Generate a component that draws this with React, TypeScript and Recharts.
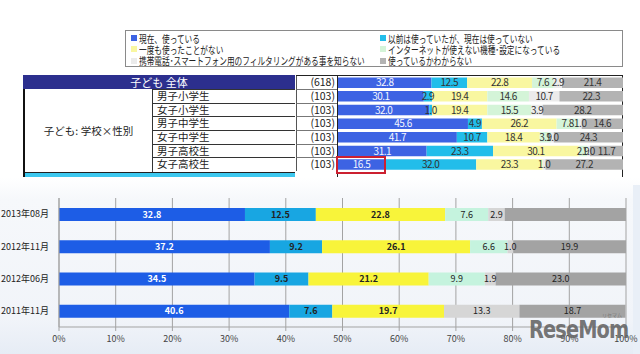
import React from 'react';
import { BarChart, Bar, XAxis, YAxis, CartesianGrid, LabelList } from 'recharts';

const seriesKeys = ['s1', 's2', 's3', 's4', 's5', 's6'];
const seriesNames = [
  '現在、使っている',
  '以前は使っていたが、現在は使っていない',
  '一度も使ったことがない',
  'インターネットが使えない機種･設定になっている',
  '携帯電話･スマートフォン用のフィルタリングがある事を知らない',
  '使っているかわからない',
];
const topColors = ['#3d63e3', '#22bdea', '#f9f7a0', '#d4f4d8', '#ebebeb', '#b3b3b3'];
const botColors = ['#1d5de6', '#18a6e2', '#f8f43a', '#c5f3de', '#d6d6d6', '#a3a3a3'];

// top table
const headerLabel = '子ども 全体';
const groupTitle = '子ども: 学校×性別';
const groupLabels = ['子ども 全体', '男子小学生', '女子小学生', '男子中学生', '女子中学生', '男子高校生', '女子高校生'];
const groupCounts = ['(618)', '(103)', '(103)', '(103)', '(103)', '(103)', '(103)'];
const topS1 = [32.8, 30.1, 32.0, 45.6, 41.7, 31.1, 16.5];
const topS2 = [12.5, 2.9, 1.0, 4.9, 10.7, 23.3, 32.0];
const topS3 = [22.8, 19.4, 19.4, 26.2, 18.4, 30.1, 23.3];
const topS4 = [7.6, 14.6, 15.5, 7.8, 3.9, 2.9, 0];
const topS5 = [2.9, 10.7, 3.9, 1.0, 1.0, 1.0, 1.0];
const topS6 = [21.4, 22.3, 28.2, 14.6, 24.3, 11.7, 27.2];

// bottom chart
const periods = ['2013年08月', '2012年11月', '2012年06月', '2011年11月'];
const botS1 = [32.8, 37.2, 34.5, 40.6];
const botS2 = [12.5, 9.2, 9.5, 7.6];
const botS3 = [22.8, 26.1, 21.2, 19.7];
const botS4 = [7.6, 6.6, 9.9, 0];
const botS5 = [2.9, 1.0, 1.9, 13.3];
const botS6 = [21.4, 19.9, 23.0, 18.7];
const botUnlabeled = ['2013年08月|s6'];
const xTicks = [0, 10, 20, 30, 40, 50, 60, 70, 80, 90, 100];

const topSeries = [topS1, topS2, topS3, topS4, topS5, topS6];
const botSeries = [botS1, botS2, botS3, botS4, botS5, botS6];

const topData = groupLabels.map((g, i) => {
  const row: any = { name: g };
  seriesKeys.forEach((k, j) => (row[k] = topSeries[j][i]));
  return row;
});
const botData = periods.map((p, i) => {
  const row: any = { name: p };
  seriesKeys.forEach((k, j) => (row[k] = botSeries[j][i]));
  return row;
});

const JP = '"Noto Sans CJK JP", "Noto Sans", sans-serif';

const makeLabel = (color: string, weight: number, size: number, spacing: number, key: string, data: any[], skip: string[]) => (props: any) => {
  const { x, y, width, height, value, index } = props;
  if (!value) return null;
  const nm = data[index] ? data[index].name : '';
  if (skip.includes(nm + '|' + key)) return null;
  return (
    <text
      x={Number(x) + Number(width) / 2}
      y={Number(y) + Number(height) / 2}
      dy="0.36em"
      textAnchor="middle"
      fill={color}
      fontSize={size}
      fontWeight={weight}
      letterSpacing={spacing}
      fontFamily={JP}
    >
      {Number(value).toFixed(1)}
    </text>
  );
};

const ROW = 13.66;
const TOP0 = 75.4;

export default function App() {
  return (
    <div style={{ position: 'absolute', left: 0, top: 0, width: 640, height: 354, background: '#fff', overflow: 'hidden', fontFamily: JP }}>
      {/* lower background */}
      <div style={{ position: 'absolute', left: 0, top: 178, width: 640, height: 176, background: 'linear-gradient(to bottom, #ffffff 0%, #f6f8fb 12%, #f1f4f9 80%, #e6ecf5 100%)' }} />
      <div style={{ position: 'absolute', left: 633, top: 185, width: 7, height: 169, background: '#e9eff7' }} />

      {/* legend */}
      <div style={{ position: 'absolute', left: 125, top: 30, width: 498, height: 37, border: '1px solid #8a8a8a', boxSizing: 'border-box', background: '#fff' }}>
        {seriesNames.map((n, i) => {
          const col = i % 2;
          const row = Math.floor(i / 2);
          return (
            <div key={n} style={{ position: 'absolute', left: col === 0 ? 5 : 254, top: 1.5 + row * 11.3, height: 11, display: 'flex', alignItems: 'center', whiteSpace: 'nowrap' }}>
              <span style={{ display: 'inline-block', width: 6, height: 6, background: topColors[i], marginRight: 2 }} />
              <span style={{ display: 'inline-block', fontSize: 10.5, color: '#222', lineHeight: '11px', transform: 'scaleX(0.73)', transformOrigin: 'left center' }}>{n}</span>
            </div>
          );
        })}
      </div>

      {/* table */}
      <div style={{ position: 'absolute', left: 23, top: 75, width: 272, height: 14, background: '#2c2f8e', color: '#fff', fontSize: 11, lineHeight: '14px', textAlign: 'center' }}>{headerLabel}</div>
      <div style={{ position: 'absolute', left: 23, top: 89, width: 130, height: 83, borderLeft: '2px solid #111', borderRight: '1px solid #333', boxSizing: 'border-box', display: 'flex', alignItems: 'center', justifyContent: 'center', fontSize: 10.5, color: '#222' }}>{groupTitle}</div>
      {groupLabels.slice(1).map((g, i) => (
        <div key={g} style={{ position: 'absolute', left: 153, top: TOP0 + (i + 1) * ROW, width: 142, height: ROW, borderTop: '1px solid #333', boxSizing: 'border-box', fontSize: 10.5, lineHeight: '12px', paddingLeft: 4, color: '#222' }}>{g}</div>
      ))}
      {groupCounts.map((c, i) => (
        <div key={i} style={{ position: 'absolute', left: 296, top: TOP0 + i * ROW, width: 41, height: ROW, borderTop: '1px solid #777', borderLeft: '1px solid #555', boxSizing: 'border-box', fontSize: 10.5, lineHeight: '12px', textAlign: 'right', paddingRight: 2, color: '#222' }}>{c}</div>
      ))}
      <div style={{ position: 'absolute', left: 296, top: 75, width: 327, height: 1, background: '#222' }} />
      <div style={{ position: 'absolute', left: 337, top: 75, width: 1, height: 102, background: '#222' }} />
      <div style={{ position: 'absolute', left: 622, top: 75, width: 1, height: 102, background: '#222' }} />
      <div style={{ position: 'absolute', left: 23, top: 172, width: 272, height: 5, background: '#3cc8ef', borderTop: '1px solid #222', boxSizing: 'border-box' }} />
      <div style={{ position: 'absolute', left: 23, top: 172, width: 2, height: 5, background: '#111' }} />

      {/* top chart */}
      <div style={{ position: 'absolute', left: 0, top: 0 }}>
        <BarChart width={640} height={180} layout="vertical" data={topData} margin={{ top: TOP0, right: 17, bottom: 180 - TOP0 - 7 * ROW, left: 338 }} barSize={10.5}>
          <XAxis type="number" hide domain={[0, 100]} allowDataOverflow />
          <YAxis type="category" dataKey="name" hide />
          {seriesKeys.map((k, j) => (
            <Bar key={k} dataKey={k} stackId="a" fill={topColors[j]} isAnimationActive={false}>
              <LabelList dataKey={k} content={makeLabel(j === 0 ? '#f4f6ff' : '#333', 400, 10, -0.5, k, topData, [])} />
            </Bar>
          ))}
        </BarChart>
      </div>

      {/* red highlight box */}
      <div style={{ position: 'absolute', left: 336, top: 156, width: 50, height: 18, border: '2px solid #cc2030', boxSizing: 'border-box' }} />

      {/* bottom chart */}
      <div style={{ position: 'absolute', left: 0, top: 180 }}>
        <BarChart width={640} height={174} layout="vertical" data={botData} margin={{ top: 18, right: 14, bottom: 0, left: 0 }} barSize={13}>
          <CartesianGrid horizontal={false} stroke="#a3a3a3" />
          <XAxis type="number" domain={[0, 100]} ticks={xTicks} allowDataOverflow tickFormatter={(v: number) => v + '%'} height={27} axisLine={{ stroke: '#a3a3a3' }} tickLine={{ stroke: '#a3a3a3' }} tickSize={4} tickMargin={5} tick={{ fontSize: 9, fill: '#444' }} />
          <YAxis yAxisId={0} type="number" domain={[0, 4]} ticks={[0, 1, 2, 3, 4]} width={0} tick={false} axisLine={false} tickLine={{ stroke: '#a3a3a3' }} tickSize={4} />
          <YAxis yAxisId="cat" type="category" dataKey="name" width={59} axisLine={{ stroke: '#a3a3a3' }} tickLine={false} tickSize={6} tickMargin={4} tick={{ fontSize: 9, fill: '#222' }} />
          {seriesKeys.map((k, j) => (
            <Bar key={k} yAxisId="cat" dataKey={k} stackId="b" fill={botColors[j]} isAnimationActive={false}>
              <LabelList dataKey={k} content={makeLabel(j === 0 ? '#ffffff' : '#222', j < 3 ? 700 : 400, 9, 0, k, botData, botUnlabeled)} />
            </Bar>
          ))}
        </BarChart>
      </div>

      {/* watermark */}
      <div style={{ position: 'absolute', left: 602, top: 311, fontSize: 5, color: '#777' }}>リセマム</div>
      <div style={{ position: 'absolute', left: 529, top: 316, fontSize: 25, fontWeight: 700, color: 'rgba(100,100,100,0.9)', fontFamily: '"DejaVu Sans Condensed", "DejaVu Sans", sans-serif', letterSpacing: -1, transform: 'scaleX(0.86)', transformOrigin: 'left top', lineHeight: '28px' }}>ReseMom</div>
    </div>
  );
}
